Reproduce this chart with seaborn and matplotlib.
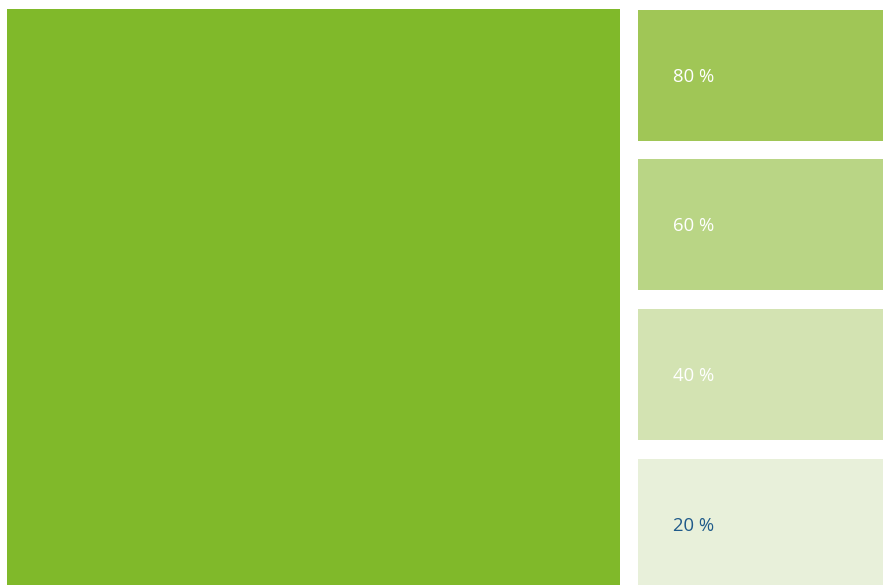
import matplotlib
matplotlib.use("Agg")
import matplotlib.pyplot as plt
from matplotlib.patches import Rectangle
import seaborn as sns

sns.set_theme(style="white")
plt.rcParams['font.family'] = ['Open Sans', 'DejaVu Sans']

# Data
main_colour = "#80B92A"
shade_labels = ["80 %", "60 %", "40 %", "20 %"]
shade_colours = ["#A0C656", "#B9D585", "#D3E3B2", "#E8F0DA"]
label_colours = ["#FFFFFF", "#FFFFFF", "#FFFFFF", "#1F5A8A"]

W, H = 883, 585
fig = plt.figure(figsize=(W / 100, H / 100), dpi=100)
ax = fig.add_axes([0, 0, 1, 1])
ax.set_xlim(0, W)
ax.set_ylim(H, 0)
ax.axis("off")

# Big swatch
ax.add_patch(Rectangle((7, 9), 613, 576, facecolor=main_colour, edgecolor="none"))

# Small swatches
tops = [10, 159, 309, 459]
heights = [131, 131, 131, 126]
for lab, col, tcol, top, h in zip(shade_labels, shade_colours, label_colours, tops, heights):
    ax.add_patch(Rectangle((638, top), 245, h, facecolor=col, edgecolor="none"))
    ax.text(673, top + 67, lab, color=tcol, fontsize=13.3, ha="left", va="center")

fig.savefig("out.png", dpi=100)
